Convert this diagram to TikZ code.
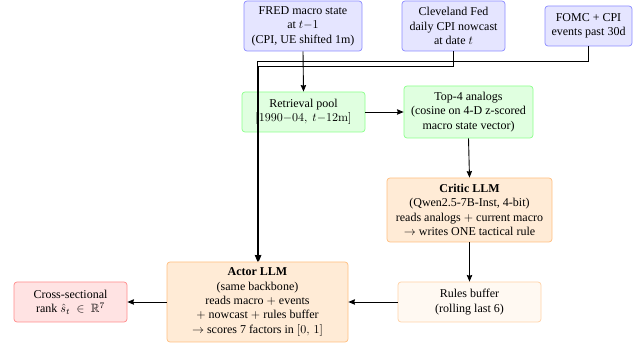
\documentclass[tikz,border=0pt]{standalone}
\usepackage[no-math]{fontspec}
\setmainfont{Liberation Serif}
\usepackage{amsmath,amssymb}
\usetikzlibrary{arrows.meta,positioning}
\begin{document}
\begin{tikzpicture}[x=0.8333pt,y=-0.8333pt,
  box/.style={draw, rounded corners=2.5pt, line width=0.6pt, align=center,
    inner sep=0pt, font=\rmfamily\fontsize{10}{12}\selectfont},
  bluebox/.style={box, draw=blue!45, fill=blue!10},
  greenbox/.style={box, draw=green!45, fill=green!12},
  orangebox/.style={box, draw=orange!50, fill=orange!16},
  lightbox/.style={box, draw=orange!35, fill=orange!5},
  redbox/.style={box, draw=red!45, fill=red!11},
  arr/.style={-{Stealth[length=5.5pt,width=4.5pt,inset=0.6pt]}, line width=0.75pt}]
\useasboundingbox (0,0) rectangle (637,344);

\node[bluebox, minimum width=118*0.8333pt, minimum height=50*0.8333pt] (fred) at (303,26)
  {FRED macro state\\at $t{-}1$\\(CPI, UE shifted 1m)};
\node[bluebox, minimum width=103*0.8333pt, minimum height=50*0.8333pt] (clev) at (453.5,26)
  {Cleveland Fed\\daily CPI nowcast\\at date $t$};
\node[bluebox, minimum width=87*0.8333pt, minimum height=40*0.8333pt] (fomc) at (588.5,26)
  {FOMC + CPI\\events past 30d};

\node[greenbox, minimum width=123*0.8333pt, minimum height=40*0.8333pt] (pool) at (303.5,112)
  {Retrieval pool\\$[1990{-}04,\ t{-}12\mathrm{m}]$};
\node[greenbox, minimum width=129*0.8333pt, minimum height=52*0.8333pt] (top) at (468.5,112)
  {Top-4 analogs\\(cosine on 4-D z-scored\\macro state vector)};

\node[orangebox, minimum width=165*0.8333pt, minimum height=64*0.8333pt] (critic) at (469.5,210)
  {\textbf{Critic LLM}\\(Qwen2.5-7B-Inst, 4-bit)\\reads analogs $+$ current macro\\$\rightarrow$ writes ONE tactical rule};
\node[lightbox, minimum width=143*0.8333pt, minimum height=40*0.8333pt] (rules) at (469.5,302)
  {Rules buffer\\(rolling last 6)};
\node[orangebox, minimum width=181*0.8333pt, minimum height=80*0.8333pt] (actor) at (257.5,302)
  {\textbf{Actor LLM}\\(same backbone)\\reads macro $+$ events\\$+$ nowcast $+$ rules buffer\\$\rightarrow$ scores 7 factors in $[0,\,1]$};
\node[redbox, minimum width=113*0.8333pt, minimum height=40*0.8333pt] (cross) at (70.5,302)
  {Cross-sectional\\rank $\hat{s}_t\ \in\ \mathbb{R}^7$};

\draw[arr] (fred.south) -- (pool.north);
\draw[arr] (pool.east) -- (top.west);
\draw[arr] (top.south) -- (critic.north);
\draw[arr] (critic.south) -- (rules.north);
\draw[arr] (rules.west) -- (actor.east);
\draw[arr] (actor.west) -- (cross.east);
\draw[arr] (fomc.south) -- ++(0,15) -| (actor.north);
\draw[arr] (clev.south) -- ++(0,15) -| ([xshift=1pt]actor.north);
\end{tikzpicture}
\end{document}
